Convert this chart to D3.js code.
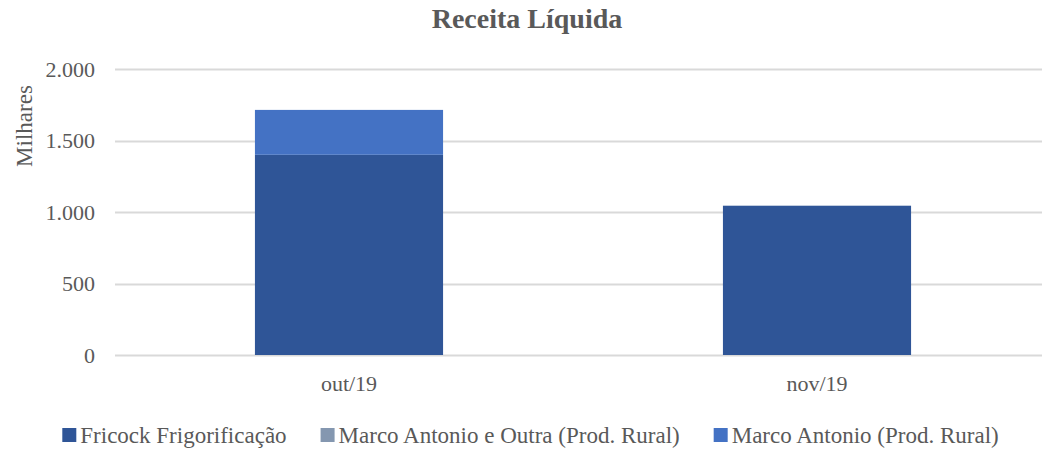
<!DOCTYPE html>
<html>
<head>
<meta charset="utf-8">
<script src="https://cdn.jsdelivr.net/npm/d3@7"></script>
<style>
  body { margin: 0; background: #fff; }
  text { font-family: "Liberation Serif", "DejaVu Serif", serif; fill: #595959; }
</style>
</head>
<body>
<svg id="chart"></svg>
<script>
const width = 1042, height = 450;

// data (thousands)
const categories = ["out/19", "nov/19"];
const seriesNames = ["Fricock Frigorificação", "Marco Antonio e Outra (Prod. Rural)", "Marco Antonio (Prod. Rural)"];
const fricock = [1400, 1044];
const marcoOutra = [0, 0];
const marcoAntonio = [314, 0];
const yTicks = [0, 500, 1000, 1500, 2000];
const colors = ["#2F5597", "#8497B0", "#4472C4"];

const margin = {top: 69, right: -9, bottom: 95, left: 115};

const svg = d3.select("#chart")
    .attr("width", width)
    .attr("height", height);

const x = d3.scaleBand()
    .domain(categories)
    .range([margin.left, width - margin.right])
    .paddingInner(0.598)
    .paddingOuter(0.299);

const y = d3.scaleLinear()
    .domain([0, 2000])
    .range([height - margin.bottom, margin.top]);

// gridlines
svg.append("g")
    .selectAll("line")
    .data(yTicks)
    .enter().append("line")
    .attr("x1", margin.left)
    .attr("x2", width - margin.right)
    .attr("y1", d => Math.round(y(d)) + 0.5)
    .attr("y2", d => Math.round(y(d)) + 0.5)
    .attr("stroke", "#d9d9d9")
    .attr("stroke-width", 2);

// y labels
const fmt = d => d3.format(",")(d).replace(/,/g, ".");
svg.append("g")
    .selectAll("text")
    .data(yTicks)
    .enter().append("text")
    .attr("x", 95)
    .attr("y", d => y(d))
    .attr("dy", "0.35em")
    .attr("text-anchor", "end")
    .style("font-size", "22px")
    .text(fmt);

// stacked bars
const rows = categories.map((c, i) => ({
    cat: c,
    s0: fricock[i],
    s1: marcoOutra[i],
    s2: marcoAntonio[i]
}));
const stack = d3.stack().keys(["s0", "s1", "s2"]);
const layers = stack(rows);

svg.append("g")
    .selectAll("g")
    .data(layers)
    .enter().append("g")
    .attr("fill", (d, i) => colors[i])
    .selectAll("rect")
    .data(d => d)
    .enter().append("rect")
    .attr("x", d => x(d.data.cat))
    .attr("width", x.bandwidth())
    .attr("y", d => y(d[1]))
    .attr("height", d => y(d[0]) - y(d[1]));

// x labels
svg.append("g")
    .selectAll("text")
    .data(categories)
    .enter().append("text")
    .attr("x", d => x(d) + x.bandwidth() / 2)
    .attr("y", 391)
    .attr("text-anchor", "middle")
    .style("font-size", "22px")
    .text(d => d);

// title
svg.append("text")
    .attr("x", 527)
    .attr("y", 28)
    .attr("text-anchor", "middle")
    .style("font-size", "28px")
    .style("font-weight", "bold")
    .text("Receita Líquida");

// axis title
svg.append("text")
    .attr("transform", "translate(32,126) rotate(-90)")
    .attr("text-anchor", "middle")
    .style("font-size", "23px")
    .text("Milhares");

// legend
const legend = svg.append("g");
let lx = 0;
const itemGap = 34;
seriesNames.forEach((name, i) => {
    const g = legend.append("g").attr("transform", `translate(${lx},0)`);
    g.append("rect")
        .attr("x", 0)
        .attr("y", 428)
        .attr("width", 14)
        .attr("height", 14)
        .attr("fill", colors[i]);
    const t = g.append("text")
        .attr("x", 18)
        .attr("y", 443)
        .style("font-size", "23px")
        .text(name);
    lx += 18 + t.node().getComputedTextLength() + itemGap;
});
const legendWidth = lx - itemGap;
legend.attr("transform", `translate(${(61 + 1000) / 2 - legendWidth / 2},0)`);
</script>
</body>
</html>
